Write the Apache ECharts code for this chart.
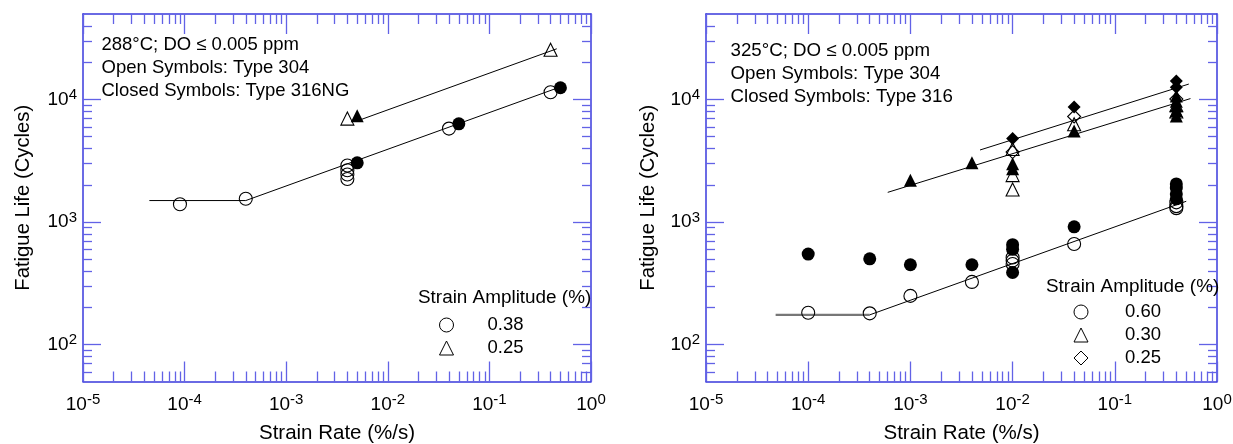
<!DOCTYPE html>
<html>
<head>
<meta charset="utf-8">
<script src="https://cdn.jsdelivr.net/npm/echarts@6/dist/echarts.min.js"></script>
<style>
  html, body { margin: 0; padding: 0; background: #fff; }
  #chart { width: 1233px; height: 444px; }
</style>
</head>
<body>
<div id="chart"></div>
<script>
// Left panel: 288°C, Type 304 (open) / 316NG (closed)
const leftOpenCircles = [[9e-5, 1400], [4e-4, 1550], [4e-3, 2900], [4e-3, 2650], [4e-3, 2450], [4e-3, 2250], [0.04, 5800], [0.4, 11500]];
const leftFilledCircles = [[5e-3, 3050], [0.05, 6350], [0.5, 12500]];
const leftOpenTriangles = [[4e-3, 7000], [0.4, 25500]];
const leftFilledTriangles = [[5e-3, 7400]];
const leftCircleFlat = [[4.5e-5, 1500], [4e-4, 1500]];
const leftCircleFit = [[4e-4, 1500], [0.5, 12700]];
const leftTriangleFit = [[5e-3, 6700], [0.46, 26000]];

// Right panel: 325°C, Type 304 (open) / 316 (closed)
const rightOpenCircles = [[1e-4, 182], [4e-4, 180], [1e-3, 250], [4e-3, 325], [1e-2, 515], [1e-2, 485], [1e-2, 455], [0.04, 662], [0.4, 1450], [0.4, 1350], [0.4, 1300]];
const rightFilledCircles = [[1e-4, 548], [4e-4, 502], [1e-3, 449], [4e-3, 449], [1e-2, 655], [1e-2, 600], [1e-2, 388], [0.04, 915], [0.4, 2050], [0.4, 1900], [0.4, 1700], [0.4, 1550]];
const rightOpenTriangles = [[1e-2, 3950], [1e-2, 2420], [1e-2, 1845], [0.04, 6300], [0.4, 9000], [0.4, 8000]];
const rightFilledTriangles = [[1e-3, 2200], [4e-3, 3050], [1e-2, 3000], [1e-2, 2730], [0.04, 5540], [0.4, 10700], [0.4, 9700], [0.4, 8900], [0.4, 8100], [0.4, 7350]];
const rightOpenDiamonds = [[1e-2, 3730], [0.04, 7280], [0.4, 10100]];
const rightFilledDiamonds = [[1e-2, 4810], [0.04, 8690], [0.4, 14200], [0.4, 12600]];
const rightCircleFlat = [[4.8e-5, 175], [4e-4, 175]];
const rightCircleFit = [[4e-4, 175], [0.5, 1480]];
const rightTriangleFit = [[6e-4, 1750], [0.55, 10200]];
const rightDiamondFit = [[4.8e-3, 3880], [0.53, 13400]];

// Axis ticks / labels
const xMajorTicks = [1e-5, 1e-4, 1e-3, 1e-2, 1e-1, 1];
const yMajorTicks = [100, 1000, 10000];
const minorMultipliers = [2, 3, 4, 5, 6, 7, 8, 9];

const leftNotes = '288°C; DO \u2264 0.005 ppm\nOpen Symbols: Type 304\nClosed Symbols: Type 316NG';
const rightNotes = '325°C; DO \u2264 0.005 ppm\nOpen Symbols: Type 304\nClosed Symbols: Type 316';
const legendTitle = 'Strain Amplitude (%)';

const FONT = '"Liberation Sans", Arial, Helvetica, sans-serif';
const AXIS_BLUE = '#3a3adc';
const TICK_BLUE = '#6262e6';

// minor tick values between the decades (2..9 x 10^n), kept inside the axis range
function minorTicks(lo, hi) {
    const out = [];
    for (let e = Math.floor(Math.log10(lo)); e < Math.ceil(Math.log10(hi)); e++) {
        minorMultipliers.forEach(m => {
            const v = m * Math.pow(10, e);
            if (v > lo * 1.0001 && v < hi * 0.9999) out.push(v);
        });
    }
    return out;
}
const xMinorTicks = minorTicks(1e-5, 1);
const yMinorTicks = minorTicks(50, 50000);

const powLabel = {
    formatter: v => '{b|10}{s|' + Math.round(Math.log10(v)) + '}',
    rich: {
        b: { fontSize: 19, lineHeight: 24, fontFamily: FONT, color: '#000' },
        s: { fontSize: 15, verticalAlign: 'top', fontFamily: FONT, color: '#000' }
    }
};

function tickStyle(values, length) {
    return { show: true, inside: true, length: length, customValues: values,
             lineStyle: { color: TICK_BLUE, width: 1.3 } };
}

/**
 * Four x axes for one grid: bottom major (labels + name), bottom minor, top major, top minor.
 */
function buildXAxes(grid) {
    const base = {
        type: 'log', logBase: 10, min: 1e-5, max: 1, gridIndex: grid, silent: true,
        splitLine: { show: false }, axisLabel: { show: false }, axisLine: { show: false }
    };
    const line = { show: true, lineStyle: { color: AXIS_BLUE, width: 1.5 } };
    return [
        Object.assign({}, base, {
            position: 'bottom', axisLine: line, axisTick: tickStyle(xMajorTicks, 20),
            axisLabel: Object.assign({ show: true, customValues: xMajorTicks, margin: 11 }, powLabel),
            name: 'Strain Rate (%/s)', nameLocation: 'middle', nameGap: 41,
            nameTextStyle: { fontSize: 20.5, fontFamily: FONT, color: '#000' }
        }),
        Object.assign({}, base, { position: 'bottom', axisTick: tickStyle(xMinorTicks, 10) }),
        Object.assign({}, base, { position: 'top', axisLine: line, axisTick: tickStyle(xMajorTicks, 20) }),
        Object.assign({}, base, { position: 'top', axisTick: tickStyle(xMinorTicks, 10) })
    ];
}

function buildYAxes(grid, nameGap) {
    const base = {
        type: 'log', logBase: 10, min: 50, max: 50000, gridIndex: grid, silent: true,
        splitLine: { show: false }, axisLabel: { show: false }, axisLine: { show: false }
    };
    const line = { show: true, lineStyle: { color: AXIS_BLUE, width: 1.5 } };
    return [
        Object.assign({}, base, {
            position: 'left', axisLine: line, axisTick: tickStyle(yMajorTicks, 18),
            axisLabel: Object.assign({ show: true, customValues: yMajorTicks, margin: 6 }, powLabel),
            name: 'Fatigue Life (Cycles)', nameLocation: 'middle', nameGap: nameGap,
            nameTextStyle: { fontSize: 20.3, fontFamily: FONT, color: '#000' }
        }),
        Object.assign({}, base, { position: 'left', axisTick: tickStyle(yMinorTicks, 9) }),
        Object.assign({}, base, { position: 'right', axisLine: line, axisTick: tickStyle(yMajorTicks, 18) }),
        Object.assign({}, base, { position: 'right', axisTick: tickStyle(yMinorTicks, 9) })
    ];
}

function points(name, data, symbol, filled, grid) {
    return {
        type: 'scatter', name: name, data: data, symbol: symbol, symbolSize: 13,
        xAxisIndex: grid * 4, yAxisIndex: grid * 4, z: 3,
        itemStyle: filled
            ? { color: '#000', borderWidth: 0, opacity: 1 }
            : { color: 'transparent', borderColor: '#000', borderWidth: 1.1, opacity: 1 }
    };
}

function fitLine(data, grid, color, width) {
    return {
        type: 'line', data: data, symbol: 'none', xAxisIndex: grid * 4, yAxisIndex: grid * 4, z: 2,
        lineStyle: { color: color || '#000', width: width || 1 }
    };
}

function legendFor(names, left, top, pad) {
    return {
        data: names, orient: 'vertical', left: left, top: top, padding: 0,
        itemWidth: 14, itemHeight: 14, itemGap: 4, selectedMode: false,
        itemStyle: { borderWidth: 1, borderColor: '#000', color: 'transparent', opacity: 1 },
        formatter: n => n.slice(2),
        textStyle: { fontSize: 18.5, fontFamily: FONT, color: '#000', padding: [0, 0, 0, pad] }
    };
}

function note(text, left, top, lineHeight, fontSize) {
    return {
        text: text, left: left, top: top, padding: 0,
        textStyle: { fontSize: fontSize, lineHeight: lineHeight, fontWeight: 'normal', fontFamily: FONT, color: '#000' }
    };
}

function renderChart() {
    const chart = echarts.init(document.getElementById('chart'), null, { renderer: 'canvas' });
    const option = {
        animation: false,
        backgroundColor: '#fff',
        title: [
            note(leftNotes, 101.5, 33.5, 23, 18.5),
            note(rightNotes, 730.5, 39, 23, 18.7),
            note(legendTitle, 418, 288.5, 19, 18.9),
            note(legendTitle, 1046, 277.5, 19, 18.9)
        ],
        legend: [
            legendFor(['L 0.38', 'L 0.25'], 439, 315.5, 29),
            legendFor(['R 0.60', 'R 0.30', 'R 0.25'], 1073.5, 302.5, 32)
        ],
        grid: [
            { left: 83, top: 14, width: 508, height: 367.5, containLabel: false, outerBoundsMode: 'none' },
            { left: 706, top: 14, width: 511, height: 367.5, containLabel: false, outerBoundsMode: 'none' }
        ],
        xAxis: buildXAxes(0).concat(buildXAxes(1)),
        yAxis: buildYAxes(0, 50).concat(buildYAxes(1, 48)),
        series: [
            fitLine(leftCircleFlat, 0),
            fitLine(leftCircleFit, 0),
            fitLine(leftTriangleFit, 0),
            points('L 0.38', leftOpenCircles, 'circle', false, 0),
            points('L 0.25', leftOpenTriangles, 'triangle', false, 0),
            points('L 316NG circles', leftFilledCircles, 'circle', true, 0),
            points('L 316NG triangles', leftFilledTriangles, 'triangle', true, 0),

            fitLine(rightCircleFlat, 1, '#777', 2.2),
            fitLine(rightCircleFit, 1),
            fitLine(rightTriangleFit, 1),
            fitLine(rightDiamondFit, 1),
            points('R 0.60', rightOpenCircles, 'circle', false, 1),
            points('R 0.30', rightOpenTriangles, 'triangle', false, 1),
            points('R 0.25', rightOpenDiamonds, 'diamond', false, 1),
            points('R 316 circles', rightFilledCircles, 'circle', true, 1),
            points('R 316 triangles', rightFilledTriangles, 'triangle', true, 1),
            points('R 316 diamonds', rightFilledDiamonds, 'diamond', true, 1)
        ]
    };
    chart.setOption(option);
}

renderChart();
</script>
</body>
</html>
